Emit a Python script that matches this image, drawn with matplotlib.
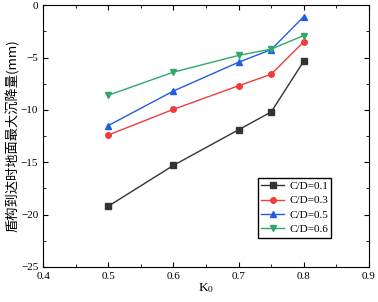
import matplotlib
matplotlib.use('Agg')
import matplotlib.pyplot as plt
from matplotlib.ticker import MultipleLocator

plt.rcParams['font.family'] = ['Liberation Serif', 'Noto Sans CJK SC']
plt.rcParams['mathtext.fontset'] = 'stix'

# 数据
k0 = [0.5, 0.6, 0.7, 0.75, 0.8]
cd01 = [-19.2, -15.3, -11.9, -10.2, -5.35]
cd03 = [-12.4, -9.95, -7.7, -6.6, -3.5]
cd05 = [-11.5, -8.2, -5.45, -4.25, -1.1]
cd06 = [-8.6, -6.4, -4.8, -4.2, -2.9]

fig = plt.figure(figsize=(3.78, 3.02), dpi=100)
ax = fig.add_axes([0.114, 0.116, 0.862, 0.867])

ax.plot(k0, cd01, color='#333333', marker='s', ms=4, lw=1, label='C/D=0.1')
ax.plot(k0, cd03, color='#f03c3c', marker='o', ms=4, lw=1, label='C/D=0.3')
ax.plot(k0, cd05, color='#1f5ee0', marker='^', ms=4.5, lw=1, label='C/D=0.5')
ax.plot(k0, cd06, color='#2fa86a', marker='v', ms=4.5, lw=1, label='C/D=0.6')

ax.set_xlim(0.4, 0.9)
ax.set_ylim(-25, 0)
ax.xaxis.set_major_locator(MultipleLocator(0.1))
ax.xaxis.set_minor_locator(MultipleLocator(0.05))
ax.yaxis.set_major_locator(MultipleLocator(5))
ax.yaxis.set_minor_locator(MultipleLocator(2.5))
ax.tick_params(which='both', direction='in', top=True, right=True, labelsize=8)
ax.tick_params(which='major', length=3.5)
ax.tick_params(which='minor', length=2)
ax.xaxis.set_major_formatter(plt.FuncFormatter(lambda v, p: '%.1f' % v))

ax.set_xlabel('K$_0$', fontsize=9.5, labelpad=0)
ax.set_ylabel('盾构到达时地面最大沉降量(mm)', fontsize=9.5, labelpad=1,
              family=['Noto Sans CJK SC', 'DejaVu Sans'])

ax.legend(loc='upper left', bbox_to_anchor=(0.66, 0.34), fontsize=8,
          frameon=True, fancybox=False, edgecolor='black', framealpha=1,
          handlelength=2.0, borderpad=0.3, labelspacing=0.42, handletextpad=0.5,
          borderaxespad=0)

fig.savefig('out.png', dpi=100)
